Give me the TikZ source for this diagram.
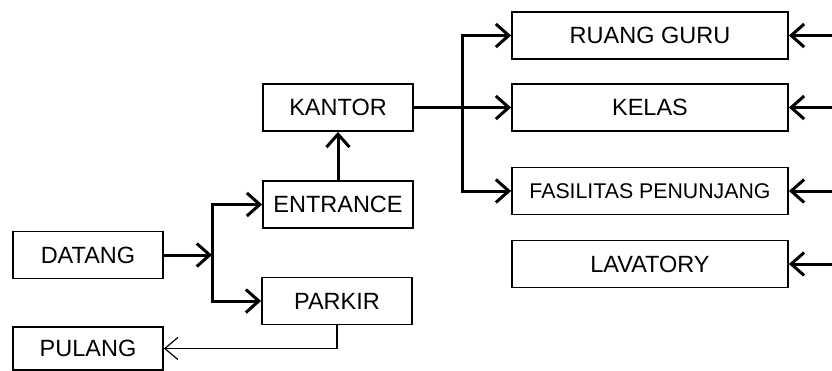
\documentclass[tikz,border=0pt]{standalone}
\usepackage{fontspec}
\setmainfont{Liberation Sans}
\usetikzlibrary{arrows.meta}
\begin{document}
\begin{tikzpicture}[x=1pt,y=-1pt,
  box/.style={draw, line width=1.8pt, minimum height=47pt, inner sep=0pt, font=\fontsize{23.5}{27}\selectfont},
  lbox/.style={box, minimum width=150pt},
  rbox/.style={box, minimum width=276pt},
  arr/.style={line width=3pt, line join=miter, -{Straight Barb[length=13pt,width=23pt,line width=3pt]}},
  tarr/.style={line width=1.2pt, -{Straight Barb[length=13pt,width=22pt,line width=1.2pt]}}]
\useasboundingbox (0,0) rectangle (832,370);
\node[lbox] (datang) at (88,255) {DATANG};
\node[lbox, minimum height=43pt] (pulang) at (88,348.5) {PULANG};
\node[lbox] (parkir) at (337,301) {PARKIR};
\node[lbox] (entrance) at (338,204.5) {ENTRANCE};
\node[lbox] (kantor) at (338,107.5) {KANTOR};
\node[rbox] (ruang) at (650,35.5) {RUANG GURU};
\node[rbox] (kelas) at (650,107.5) {KELAS};
\node[rbox, font=\fontsize{21.3}{25}\selectfont] (fas) at (650,191) {FASILITAS PENUNJANG};
\node[rbox] (lav) at (650,264) {LAVATORY};
\coordinate (bx) at (212,0);
\coordinate (cx) at (462,0);
\coordinate (rx) at (834,0);
% left fork
\draw[arr] (datang.east) -- (datang.east -| bx);
\draw[arr] (parkir.west -| bx) |- (entrance.west);
\draw[arr] (entrance.west -| bx) |- (parkir.west);
\draw[arr] (entrance.north) -- (kantor.south);
% right fork
\draw[arr] (kantor.east) -- (kelas.west);
\draw[arr] (fas.west -| cx) |- (ruang.west);
\draw[arr] (ruang.west -| cx) |- (fas.west);
% incoming from right
\draw[arr] (ruang.east -| rx) -- (ruang.east);
\draw[arr] (kelas.east -| rx) -- (kelas.east);
\draw[arr] (fas.east -| rx) -- (fas.east);
\draw[arr] (lav.east -| rx) -- (lav.east);
% exit
\draw[tarr] (parkir.south) |- (pulang.east);
\end{tikzpicture}
\end{document}
